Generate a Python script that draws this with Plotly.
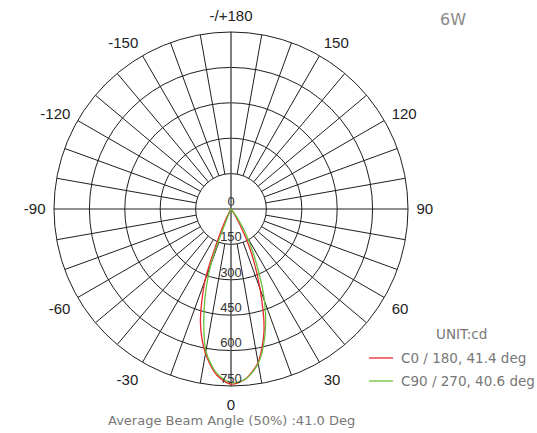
import plotly.graph_objects as go

# ---- data ----
angles = [0, 5, 10, 15, 20, 25, 30, 35, 40, 45, 50, 60, 70, 80, 90]
c0_vals   = [742, 722, 660, 540, 360, 200, 70, 15, 2, 0, 0, 0, 0, 0, 0]
c180_vals = [742, 705, 622, 500, 320, 80, 8, 0, 0, 0, 0, 0, 0, 0, 0]
c90_vals  = [736, 722, 665, 555, 415, 255, 138, 50, 10, 0, 0, 0, 0, 0, 0]
c270_vals = [736, 698, 612, 440, 250, 10, 0, 0, 0, 0, 0, 0, 0, 0, 0]

series_names = ["C0 / 180, 41.4 deg", "C90 / 270, 40.6 deg"]
series_colors = ["#e8262b", "#6cbf3a"]

radial_ticks = [150, 300, 450, 600, 750]
radial_labels = ["0", "150", "300", "450", "600", "750"]
radial_label_r = [0, 150, 300, 450, 600, 750]

ang_tickvals = [0, 30, 60, 90, 120, 150, 180, 210, 240, 270, 300, 330]
ang_ticktext = ["0", "30", "60", "90", "120", "150", "-/+180",
                "-150", "-120", "-90", "-60", "-30"]

title_text = "6W"
unit_text = "UNIT:cd"
footer_text = "Average Beam Angle (50%) :41.0 Deg"

FONT = "Liberation Sans, Arial, sans-serif"
FONT2 = "DejaVu Sans, sans-serif"
GRID = "#1e1e1e"

def full_curve(right, left):
    th = [-a for a in reversed(angles)] + angles[1:]
    r = list(reversed(left)) + right[1:]
    return th, r

fig = go.Figure()

# spokes every 10 deg, starting at the first ring (except the axes lines)
sp_r, sp_t = [], []
for a in range(0, 360, 10):
    if a % 90 == 0:
        continue
    sp_r += [150, 750, None]
    sp_t += [a, a, None]
fig.add_trace(go.Scatterpolar(r=sp_r, theta=sp_t, mode="lines",
                              line=dict(color=GRID, width=1),
                              hoverinfo="skip", showlegend=False))
# horizontal diameter
fig.add_trace(go.Scatterpolar(r=[750, 0, 750], theta=[90, 90, 270], mode="lines",
                              line=dict(color=GRID, width=1),
                              hoverinfo="skip", showlegend=False))
# vertical diameter (grey)
fig.add_trace(go.Scatterpolar(r=[750, 0, 750], theta=[0, 0, 180], mode="lines",
                              line=dict(color="#555555", width=1.5),
                              hoverinfo="skip", showlegend=False))

curves = [full_curve(c0_vals, c180_vals), full_curve(c90_vals, c270_vals)]
for i, (th, r) in enumerate(curves):
    fig.add_trace(go.Scatterpolar(r=r, theta=th, mode="lines",
                                  name=series_names[i],
                                  line=dict(color=series_colors[i], width=1.3,
                                            shape="spline", smoothing=0.8),
                                  showlegend=False))

# radial value labels along the 0 deg direction
fig.add_trace(go.Scatterpolar(r=radial_label_r, theta=[0] * len(radial_label_r),
                              mode="text", text=radial_labels,
                              textposition="top center",
                              textfont=dict(size=13, color="#333333", family=FONT),
                              hoverinfo="skip", showlegend=False))

cx, cy, R = 231, 209, 177
W, H = 537, 433

# manual legend (line samples + labels)
leg_x0, leg_x1, leg_text_x = 369, 393, 399
leg_y = [358, 381]
shapes = []
annotations = [
    dict(text=title_text, x=453 / W, y=1 - 19 / H, xref="paper", yref="paper",
         showarrow=False, xanchor="center", yanchor="middle",
         font=dict(size=16, color="#888888", family=FONT2)),
    dict(text=footer_text, x=cx / W, y=1 - 420 / H, xref="paper", yref="paper",
         showarrow=False, xanchor="center", yanchor="middle",
         font=dict(size=13, color="#777777", family=FONT2)),
    dict(text=unit_text, x=461 / W, y=1 - 334 / H, xref="paper", yref="paper",
         showarrow=False, xanchor="center", yanchor="middle",
         font=dict(size=13.5, color="#777777", family=FONT2)),
]
for i in range(len(series_names)):
    shapes.append(dict(type="line", xref="paper", yref="paper",
                       x0=leg_x0 / W, x1=leg_x1 / W,
                       y0=1 - leg_y[i] / H, y1=1 - leg_y[i] / H,
                       line=dict(color=series_colors[i], width=1.3)))
    annotations.append(dict(text=series_names[i], x=leg_text_x / W, y=1 - leg_y[i] / H,
                            xref="paper", yref="paper", showarrow=False,
                            xanchor="left", yanchor="middle",
                            font=dict(size=13.5, color="#777777", family=FONT2)))

fig.update_layout(
    width=W, height=H,
    margin=dict(l=0, r=0, t=0, b=0),
    paper_bgcolor="white",
    font=dict(family=FONT),
    showlegend=False,
    polar=dict(
        domain=dict(x=[(cx - R) / W, (cx + R) / W],
                    y=[(H - cy - R) / H, (H - cy + R) / H]),
        bgcolor="white",
        radialaxis=dict(range=[0, 750], tickvals=radial_ticks,
                        showticklabels=False, ticks="",
                        showline=False, gridcolor=GRID, gridwidth=1),
        angularaxis=dict(rotation=-90, direction="counterclockwise",
                         tickvals=ang_tickvals, ticktext=ang_ticktext,
                         ticks="outside", ticklen=5, tickcolor="rgba(0,0,0,0)",
                         tickfont=dict(size=15, color="#222222", family=FONT),
                         showgrid=False, showline=True,
                         linecolor=GRID, linewidth=1),
    ),
    shapes=shapes,
    annotations=annotations,
)

fig.write_html("out.html", config={"displayModeBar": False},
               post_script="document.body.style.margin='0px';")
